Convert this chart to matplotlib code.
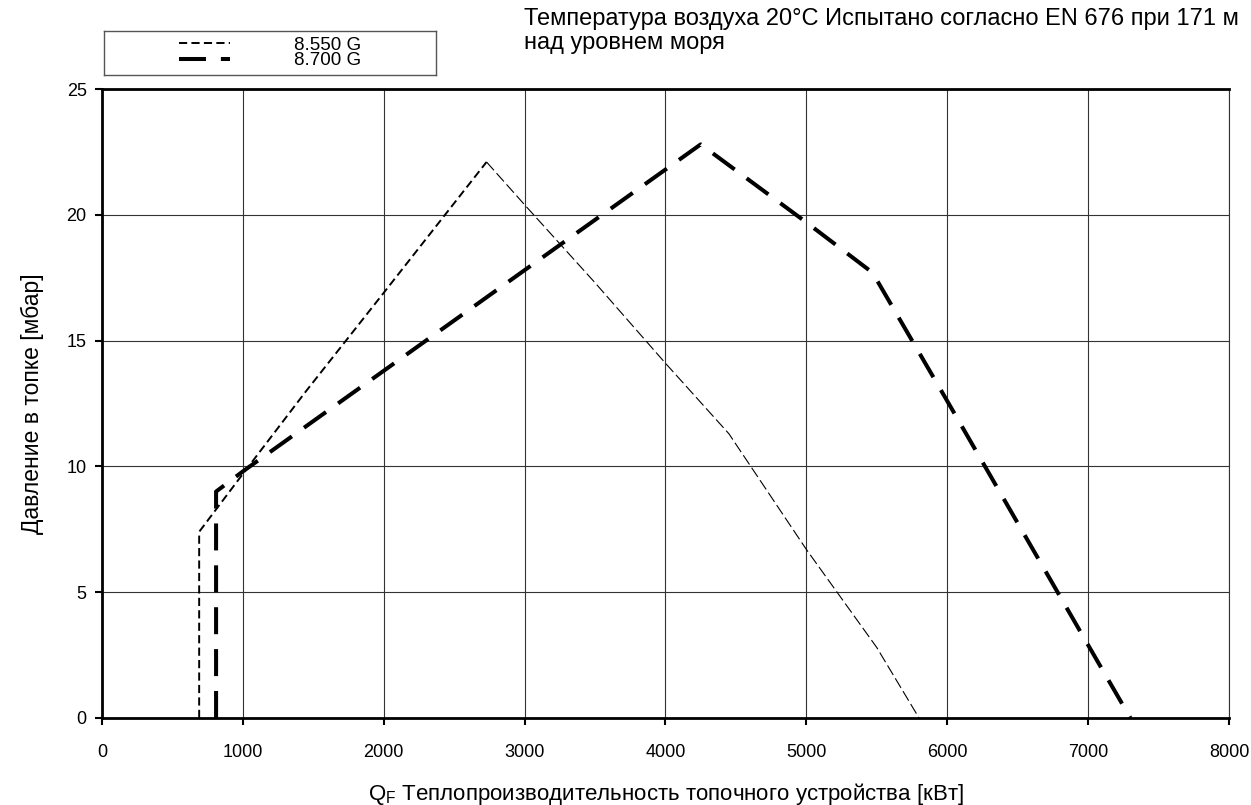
import numpy as np
import matplotlib
matplotlib.use('Agg')
from matplotlib import pyplot as plt

plt.rcParams['font.family'] = ['Liberation Sans', 'DejaVu Sans']
plt.rcParams['mathtext.fontset'] = 'custom'
plt.rcParams['mathtext.rm'] = 'Liberation Sans'
plt.rcParams['mathtext.it'] = 'Liberation Sans'

# burner working fields
x_550 = [690, 690, 1000, 1450, 2000, 2730, 3000, 3500, 4000, 4450, 5000, 5500, 5800]
y_550 = [0, 7.4, 9.7, 13.0, 16.9, 22.1, 20.4, 17.3, 14.1, 11.3, 6.7, 2.8, 0]
x_700 = [810, 810, 1000, 2000, 3000, 4250, 5000, 5470, 6000, 7000, 7300]
y_700 = [0, 9.0, 9.8, 13.8, 17.8, 22.8, 19.7, 17.7, 12.6, 2.9, 0]
labels = ['8.550 G', '8.700 G']
x_ticks = [0, 1000, 2000, 3000, 4000, 5000, 6000, 7000, 8000]
y_ticks = [0, 5, 10, 15, 20, 25]

fig = plt.figure(figsize=(12.51, 8.05), dpi=100)
ax = fig.add_axes([0.0815, 0.1081, 0.9009, 0.7813])

# thin line: rising side drawn a bit heavier than the falling side, like the original
peak = int(np.argmax(y_550))
ax.plot(x_550[:peak + 1], y_550[:peak + 1], color='black', lw=1.4, dashes=(4.2, 2.2),
        label=labels[0])
ax.plot(x_550[peak:], y_550[peak:], color='black', lw=0.8, dashes=(10, 3.5))
ax.plot(x_700, y_700, color='black', lw=2.9, dashes=(6.7, 3.7), label=labels[1])

ax.set_xlim(0, 8000)
ax.set_ylim(0, 25)
ax.set_xticks(x_ticks)
ax.set_yticks(y_ticks)
ax.grid(True, color='#333333', lw=0.8)
ax.tick_params(direction='out', length=5, width=1.5, labelsize=13, pad=6)
ax.tick_params(axis='x', pad=14)
for s in ['left', 'bottom', 'top']:
    ax.spines[s].set_linewidth(2)
ax.spines['right'].set_linewidth(0.8)
ax.spines['right'].set_color('#333333')

ax.set_xlabel('Q$_{\\mathrm{F}}$ Теплопроизводительность топочного устройства [кВт]',
              fontsize=16, labelpad=14)
ax.set_ylabel('Давление в топке [мбар]', fontsize=16.5, labelpad=16)

fig.text(0.419, 0.99, 'Температура воздуха 20°C Испытано согласно EN 676 при 171 м\nнад уровнем моря',
         ha='left', va='top', fontsize=17, linespacing=1.12)

# legend box above the plot
lax = fig.add_axes([104 / 1251, 1 - 75 / 805, 332 / 1251, 44 / 805])
lax.set_xticks([])
lax.set_yticks([])
for s in lax.spines.values():
    s.set_color('#555555')
    s.set_linewidth(1)
h, l = ax.get_legend_handles_labels()
lax.legend(h, l, loc='center', frameon=False, fontsize=13.5, handlelength=2.7,
           handletextpad=3.4, labelspacing=-0.1, borderpad=0)

fig.savefig('out.png', dpi=100)
